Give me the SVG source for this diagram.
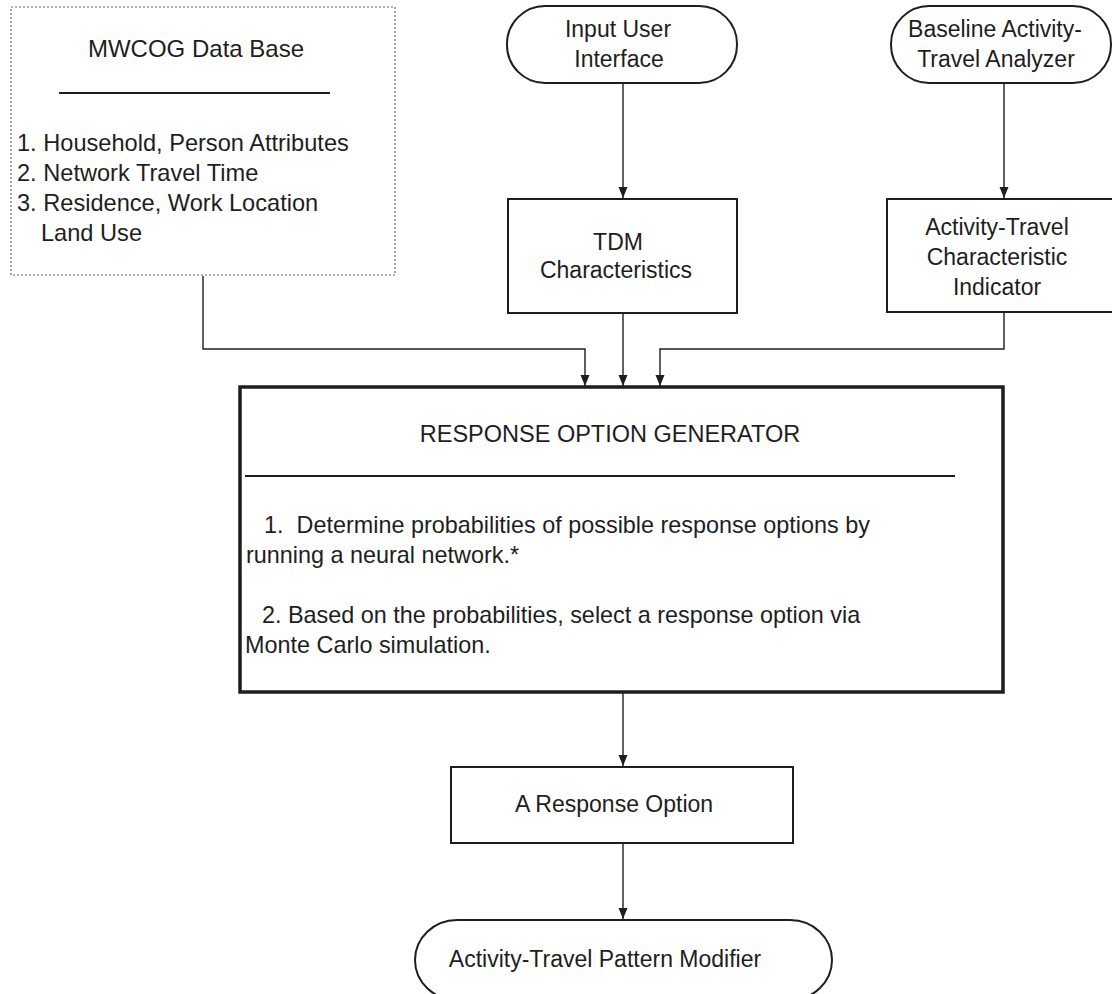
<svg xmlns="http://www.w3.org/2000/svg" width="1112" height="994" viewBox="0 0 1112 994">
<style>
text{font-family:"Liberation Sans",Arial,sans-serif;font-size:23px;fill:#1e1e1e}
.c{text-anchor:middle}
.l{font-size:23.6px}
.p{font-size:23.4px}
.box{fill:#fff;stroke:#1e1e1e;stroke-width:2}
.thick{fill:#fff;stroke:#1e1e1e;stroke-width:3.5}
.dot{fill:#fff;stroke:#666;stroke-width:1.2;stroke-dasharray:2 2}
.rule{stroke:#1e1e1e;stroke-width:2}
.conn{fill:none;stroke:#1e1e1e;stroke-width:1.4}
</style>
<defs>
<marker id="arr" markerUnits="userSpaceOnUse" markerWidth="12" markerHeight="12" viewBox="0 0 12 12" refX="11" refY="6" orient="auto">
<path d="M0,1.5 L11,6 L0,10.5 Z" fill="#1e1e1e"/>
</marker>
</defs>
<rect width="1112" height="994" fill="#fff"/>
<g id="connectors">
<path class="conn" d="M203 276 V349 H585 V386" marker-end="url(#arr)"/>
<path class="conn" d="M623 83 V198" marker-end="url(#arr)"/>
<path class="conn" d="M623 313 V386" marker-end="url(#arr)"/>
<path class="conn" d="M1004 83 V198" marker-end="url(#arr)"/>
<path class="conn" d="M1004 312 V349 H660 V386" marker-end="url(#arr)"/>
<path class="conn" d="M623 692 V766" marker-end="url(#arr)"/>
<path class="conn" d="M623 843 V919" marker-end="url(#arr)"/>
</g>
<g id="mwcog">
<rect class="dot" x="11" y="7" width="384" height="268"/>
<text class="c" x="196" y="57" style="font-size:24px">MWCOG Data Base</text>
<line class="rule" x1="59" y1="93" x2="330" y2="93"/>
<text class="l" x="17" y="151">1. Household, Person Attributes</text>
<text class="l" x="17" y="181">2. Network Travel Time</text>
<text class="l" x="17" y="211">3. Residence, Work Location</text>
<text class="l" x="41" y="241">Land Use</text>
</g>
<g id="input-ui">
<rect class="box" x="507" y="6" width="230" height="77" rx="38" ry="38"/>
<text class="c" x="618" y="37">Input User</text>
<text class="c" x="619" y="67">Interface</text>
</g>
<g id="baseline">
<rect class="box" x="891" y="6" width="220" height="77" rx="38" ry="38"/>
<text class="c" x="995" y="37">Baseline Activity-</text>
<text class="c" x="996" y="67">Travel Analyzer</text>
</g>
<g id="tdm">
<rect class="box" x="508" y="199" width="229" height="114"/>
<text class="c" x="618" y="250">TDM</text>
<text class="c" x="616" y="278">Characteristics</text>
</g>
<g id="indicator">
<rect class="box" x="887" y="199" width="235" height="113"/>
<text class="c" x="997" y="235">Activity-Travel</text>
<text class="c" x="997" y="265">Characteristic</text>
<text class="c" x="997" y="295">Indicator</text>
</g>
<g id="rog">
<rect class="thick" x="240" y="387" width="763" height="305"/>
<text class="c" x="610" y="442" style="font-size:23.5px">RESPONSE OPTION GENERATOR</text>
<line class="rule" x1="245" y1="476" x2="955" y2="476"/>
<text class="p" x="264" y="533" xml:space="preserve">1.  Determine probabilities of possible response options by</text>
<text class="p" x="246" y="563">running a neural network.*</text>
<text class="p" x="262" y="623">2. Based on the probabilities, select a response option via</text>
<text class="p" x="245" y="653">Monte Carlo simulation.</text>
</g>
<g id="response-option">
<rect class="box" x="451" y="767" width="342" height="76"/>
<text class="c" x="614" y="812">A Response Option</text>
</g>
<g id="modifier">
<rect class="box" x="415" y="920" width="417" height="80" rx="42" ry="40"/>
<text class="c" x="605" y="967">Activity-Travel Pattern Modifier</text>
</g>
</svg>
